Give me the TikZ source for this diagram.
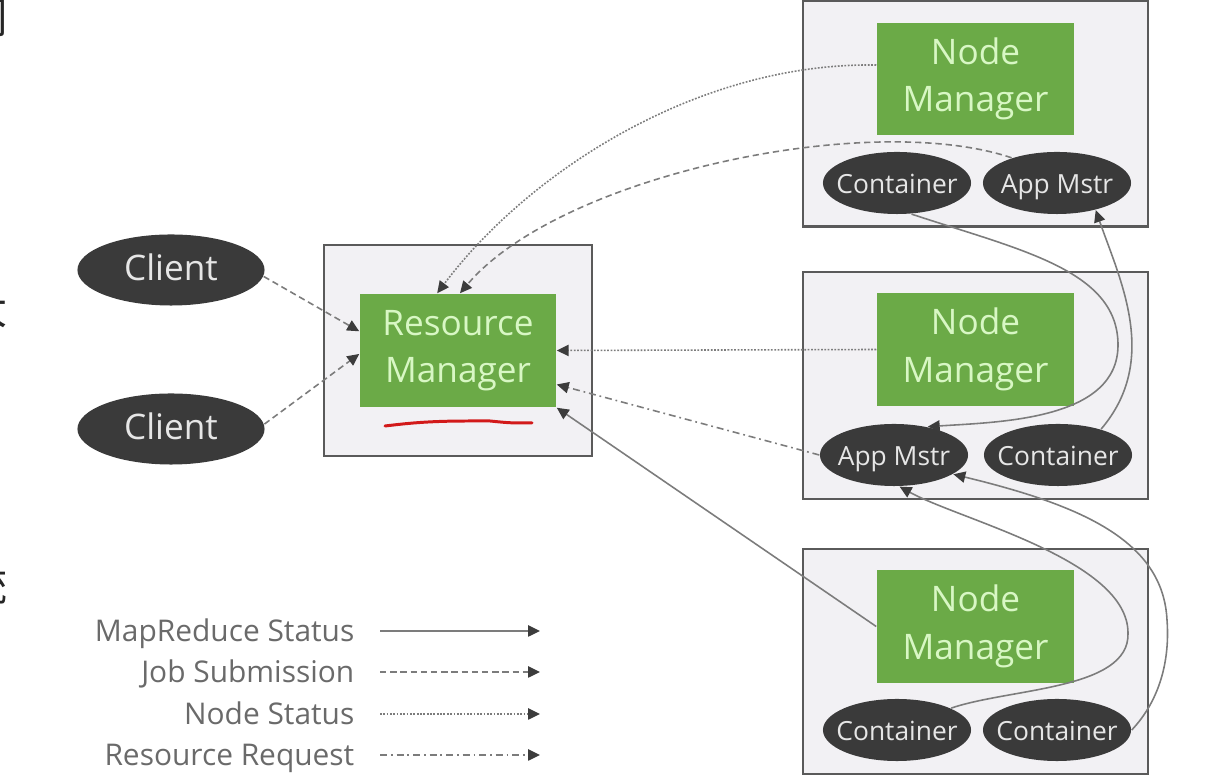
\documentclass[tikz,border=0pt]{standalone}
\usepackage{fontspec}
\setmainfont{Open Sans}
\newfontfamily\cjk{Noto Sans CJK SC}
\usetikzlibrary{shapes.geometric,arrows.meta,positioning}
\definecolor{boxfill}{HTML}{F2F1F4}
\definecolor{boxline}{HTML}{5A5A5A}
\definecolor{mgrgreen}{HTML}{6BAA47}
\definecolor{mgrtext}{HTML}{D8F7C4}
\definecolor{pillgray}{HTML}{3A3A3A}
\definecolor{pilltext}{HTML}{E6E6E6}
\definecolor{linegray}{HTML}{7C7C7C}
\definecolor{tipgray}{HTML}{3C3C3C}
\definecolor{legendgray}{HTML}{6A6A6A}
\definecolor{penred}{HTML}{D21A1A}
\begin{document}
\begin{tikzpicture}[x=0.01cm, y=-0.01cm,
        host/.style={draw=boxline, fill=boxfill, line width=0.6pt, inner sep=0pt},
        mgr/.style={fill=mgrgreen, text=mgrtext, font=\fontsize{10}{13.5}\selectfont, align=center, minimum width=1.97cm, minimum height=1.12cm, inner sep=0pt},
        pill/.style={ellipse, fill=pillgray, text=pilltext, font=\fontsize{7.5}{9}\selectfont, minimum width=1.48cm, minimum height=0.62cm, inner xsep=-3pt, inner ysep=0pt, text height=1.55ex, text depth=0.45ex},
        client/.style={pill, minimum width=1.87cm, minimum height=0.71cm, font=\fontsize{10}{12}\selectfont},
        legend/.style={anchor=base east, text=legendgray, font=\fontsize{8.5}{10}\selectfont, inner sep=0pt},
        cjkchar/.style={font=\cjk\fontsize{12}{12}\selectfont, text=black!85, inner sep=0pt},
        >={Triangle[length=3.4pt,width=3.2pt,color=tipgray]},
        flow/.style={->, draw=linegray, line width=0.45pt},
        mrstatus/.style={flow},
        jobsub/.style={flow, dash pattern=on 1.8pt off 1.1pt},
        nodestatus/.style={flow, dash pattern=on 0.5pt off 0.45pt},
        resreq/.style={flow, dash pattern=on 2pt off 1.1pt on 0.5pt off 1.1pt},
        redmark/.style={draw=penred, line width=0.85pt, line cap=round}
    ]
        \useasboundingbox (0,0) rectangle (1209,780);

        % === cut-off characters at the left edge ===
        \node[cjkchar] (han1) at (-13,18) {们};
        \node[cjkchar] (han2) at (-13,308) {大};
        \node[cjkchar] (han3) at (-13,585) {统};

        % === Clients and Resource Manager ===
        \node[client] (client1) at (171,270) {Client};
        \node[client] (client2) at (171,429) {Client};
        \node[host, minimum width=2.68cm, minimum height=2.11cm] (rmhost) at (458,350.5) {};
        \node[mgr, minimum width=1.96cm, minimum height=1.13cm] (rm) at (458,350.5) {Resource\\Manager};
        \draw[redmark] (385,426) .. controls (410,423) and (430,421) .. (470,421) -- (490,421) .. controls (510,423) .. (532,423);

        % === Node 1 ===
        \node[host, minimum width=3.45cm, minimum height=2.25cm] (host1) at (975.5,114) {};
        \node[mgr] (nm1) at (975.5,79) {Node\\Manager};
        \node[pill] (con1) at (897,183) {Container};
        \node[pill] (am1) at (1057,183) {App Mstr};

        % === Node 2 ===
        \node[host, minimum width=3.45cm, minimum height=2.27cm] (host2) at (975.5,385.5) {};
        \node[mgr] (nm2) at (975.5,349.5) {Node\\Manager};
        \node[pill] (am2) at (894,455) {App Mstr};
        \node[pill] (con2) at (1058,455) {Container};

        % === Node 3 ===
        \node[host, minimum width=3.45cm, minimum height=2.25cm] (host3) at (975.5,661.5) {};
        \node[mgr] (nm3) at (975.5,626.5) {Node\\Manager};
        \node[pill] (con3) at (897,730) {Container};
        \node[pill] (con4) at (1057,730) {Container};

        % === flows to the Resource Manager ===
        \draw[jobsub] (client1.-4) -- (rm.169);
        \draw[jobsub] (client2.3) -- (rm.182);
        \draw[nodestatus] (nm1.172) .. controls (700,62) and (530,170) .. (rm.110);
        \draw[jobsub] (am1.151) .. controls (870,110) and (560,175) .. (rm.88);
        \draw[nodestatus] (nm2.west) -- (rm.east);
        \draw[resreq] (am2.west) -- (rm.-19);
        \draw[mrstatus] (nm3.west) -- (rm.south east);

        % === containers report to their App Mstr ===
        \draw[mrstatus] (con1.-65) .. controls (1020,250) and (1118,270) .. (1118,345) .. controls (1118,420) and (1000,422) .. (am2.40);
        \draw[mrstatus] (con2.31) .. controls (1160,360) and (1120,280) .. (am1.-35);
        \draw[mrstatus] (con3.22) .. controls (1010,688) and (1130,690) .. (1128,633) .. controls (1128,560) and (960,520) .. (am2.-80);
        \draw[mrstatus] (con4.east) .. controls (1160,700) and (1170,660) .. (1167,620) .. controls (1163,540) and (1080,505) .. (am2.-18);

        % === legend ===
        \node[legend] (lgmr) at (355,642) {MapReduce Status};
        \node[legend] (lgjob) at (355,683) {Job Submission};
        \node[legend] (lgnode) at (355,725) {Node Status};
        \node[legend] (lgres) at (355,766) {Resource Request};
        \coordinate (lgmrA) at (380,631);   \coordinate (lgmrB) at (540,631);
        \coordinate (lgjobA) at (380,672);  \coordinate (lgjobB) at (540,672);
        \coordinate (lgnodeA) at (380,714); \coordinate (lgnodeB) at (540,714);
        \coordinate (lgresA) at (380,755);  \coordinate (lgresB) at (540,755);
        \draw[mrstatus] (lgmrA) -- (lgmrB);
        \draw[jobsub] (lgjobA) -- (lgjobB);
        \draw[nodestatus] (lgnodeA) -- (lgnodeB);
        \draw[resreq] (lgresA) -- (lgresB);
    \end{tikzpicture}
\end{document}
